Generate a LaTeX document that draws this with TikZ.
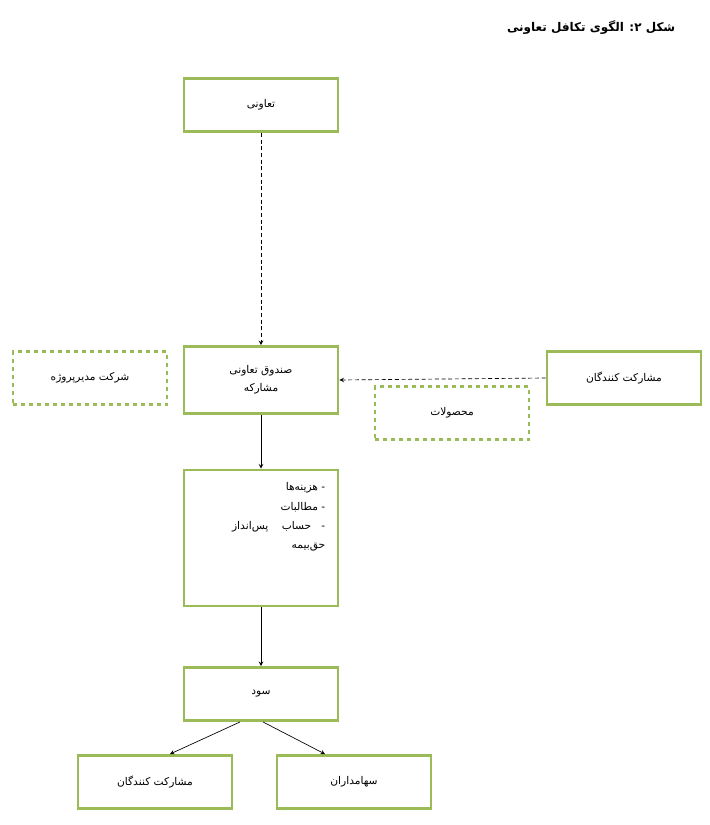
\documentclass[tikz,border=0pt]{standalone}
\usepackage{fontspec}
\usepackage{tikz}
\newfontfamily\arabicfont[Script=Arabic]{DejaVu Sans}
\TeXXeTstate=1
\newcommand{\fa}[1]{{\arabicfont\beginR #1\endR}}
\definecolor{boxgreen}{RGB}{155,187,89}
\begin{document}
\begin{tikzpicture}[x=0.75pt,y=-0.75pt]

            \tikzset{box/.style={draw=boxgreen, line width=2.2pt, minimum width=154*0.75pt,
                     minimum height=53*0.75pt, font=\footnotesize, inner sep=0pt},
                     dbox/.style={box, dashed},
                     link/.style={->, >=stealth, line width=0.5pt}}

            \useasboundingbox (0,0) rectangle (710,825);

            \node [anchor=east, font=\small\bfseries] (title) at (680,28) {\fa{شکل ۲: الگوی تکافل تعاونی}};

            \node [box] (coop) at (261,105) {\fa{تعاونی}};
            \node [box, minimum height=67*0.75pt, align=center] (fund) at (261,380)
                  {\fa{صندوق تعاونی}\\[4pt]\fa{مشارکه}};
            \node [dbox] (manager) at (90,378) {\fa{شرکت مدیرپروژه}};
            \node [box] (part) at (624,378) {\fa{مشارکت کنندگان}};
            \node [dbox] (prod) at (452,413) {\fa{محصولات}};
            \node [box, minimum height=136*0.75pt] (list) at (261,538) {};
            \node [anchor=north east, align=right, font=\footnotesize] (items) at (330,478)
                  {\fa{- هزینه‌ها}\\[5pt]\fa{- مطالبات}\\[5pt]\fa{-\ \ \ حساب\ \ \ \ پس‌انداز}\\[5pt]\fa{حق‌بیمه}};
            \node [box] (profit) at (261,694) {\fa{سود}};
            \node [box] (part2) at (155,782) {\fa{مشارکت کنندگان}};
            \node [box] (share) at (354,782) {\fa{سهامداران}};

            \draw [link, densely dashed] (coop) -- (fund);
            \draw [link, densely dashed] (part.west) -- (fund.east);
            \draw [link] (fund) -- (list);
            \draw [link] (list) -- (profit);
            \draw [link] ([xshift=-21*0.75pt]profit.south) -- ([xshift=15*0.75pt]part2.north);
            \draw [link] ([xshift=2*0.75pt]profit.south) -- ([xshift=-29*0.75pt]share.north);

        \end{tikzpicture}
\end{document}
